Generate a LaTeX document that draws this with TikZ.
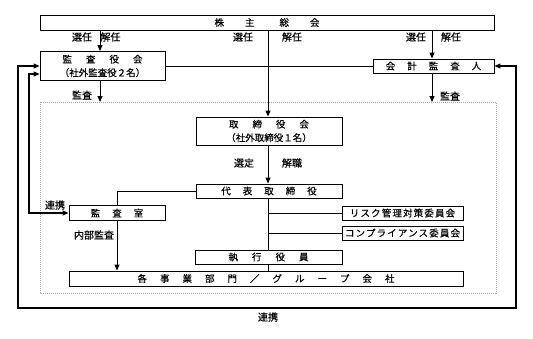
\documentclass[tikz,border=0pt]{standalone}
\usepackage{fontspec}
\setmainfont[FakeBold=0.35]{Noto Sans CJK JP}
\newfontfamily\jpls[LetterSpace=12,FakeBold=0.35]{Noto Sans CJK JP}
\usetikzlibrary{arrows.meta}
\newcommand{\jsp}[1]{\hspace{#1pt}}
\begin{document}
\begin{tikzpicture}[x=1pt,y=-1pt,
  box/.style={draw, line width=0.9pt, inner sep=0pt, align=center,
    font=\fontsize{9.5}{13.5}\selectfont},
  lab/.style={inner sep=0pt, font=\fontsize{10}{12}\selectfont},
  conn/.style={line width=0.9pt},
  arr/.style={line width=0.9pt, -{Triangle[length=6pt,width=5pt]}},
  both/.style={line width=1.1pt, {Triangle[length=6pt,width=5pt]}-{Triangle[length=6pt,width=5pt]}},
]
\useasboundingbox (0,0) rectangle (533,338);
\draw[gray!70, line width=0.6pt, dash pattern=on 1pt off 1pt] (40,102) rectangle (496,293);

\node[box, minimum width=454pt, minimum height=15pt] (sh) at (267,22.5)
  {株\jsp{21}主\jsp{25}総\jsp{21}会};
\node[box, minimum width=125pt, minimum height=29pt] (kan) at (102.5,66)
  {監\jsp{14}査\jsp{14}役\jsp{14}会\\（社外監査役２名）};
\node[box, minimum width=121pt, minimum height=14pt] (kai) at (433.5,66)
  {会\jsp{12}計\jsp{12}監\jsp{12}査\jsp{12}人};
\node[box, minimum width=146pt, minimum height=28pt] (tori) at (269,131)
  {取\jsp{14}締\jsp{14}役\jsp{14}会\\（社外取締役１名）};
\node[box, minimum width=146pt, minimum height=14pt] (dai) at (269,191)
  {代\jsp{12}表\jsp{12}取\jsp{12}締\jsp{12}役};
\node[box, minimum width=96pt, minimum height=15pt] (shitsu) at (117,213)
  {監\jsp{12}査\jsp{12}室};
\node[box, minimum width=121pt, minimum height=14pt] (risk) at (402.5,213)
  {\jpls リスク管理対策委員会};
\node[box, minimum width=121pt, minimum height=14pt] (comp) at (402.5,233)
  {\jpls コンプライアンス委員会};
\node[box, minimum width=147pt, minimum height=14pt] (shikko) at (268.5,257)
  {執\jsp{14}行\jsp{14}役\jsp{14}員};
\node[box, minimum width=394pt, minimum height=15pt] (kaku) at (266,278.5)
  {各\jsp{13}事\jsp{13}業\jsp{13}部\jsp{13}門\jsp{13}／\jsp{13}グ\jsp{13}ル\jsp{13}ー\jsp{13}プ\jsp{13}会\jsp{13}社};

\coordinate (xL) at (100,0);
\coordinate (xM) at (268,0);
\coordinate (xR) at (432,0);
\coordinate (yD) at (0,102);
\coordinate (oA) at (18,66);
\coordinate (oB) at (18,308);
\coordinate (oC) at (516,308);
\coordinate (oD) at (516,66);
\coordinate (pA) at (29,74);

\draw[arr] (sh.south -| xL) -- (kan.north -| xL);
\draw[arr] (sh.south -| xM) -- (tori.north -| xM);
\draw[arr] (sh.south -| xR) -- (kai.north -| xR);
\draw[conn] (kan.east) -- (kai.west);
\draw[arr] (kan.south -| xL) -- (xL |- yD);
\draw[arr] (kai.south -| xR) -- (xR |- yD);
\draw[arr] (tori.south -| xM) -- (dai.north -| xM);
\draw[conn] (dai.south -| xM) -- (shikko.north -| xM);
\draw[conn] (shikko.south -| xM) -- (kaku.north -| xM);
\draw[conn] (risk.west) -- (risk.west -| xM);
\draw[conn] (comp.west) -- (comp.west -| xM);
\draw[conn] (dai.west) -| (shitsu.north);
\draw[arr] (shitsu.south) -- (kaku.north -| shitsu.south);
\draw[both] (kai.east) -- (oD) -- (oC) -- (oB) -- (oA) -- (kan.west |- oA);
\draw[both] (kan.west |- pA) -- (pA) |- (shitsu.west);

\node[lab] (l1) at (82,37) {選任};
\node[lab] (l2) at (110.5,37) {解任};
\node[lab] (l3) at (243,37) {選任};
\node[lab] (l4) at (292,37) {解任};
\node[lab] (l5) at (416,37) {選任};
\node[lab] (l6) at (451,37) {解任};
\node[lab] (l7) at (82,95) {監査};
\node[lab] (l8) at (450,96) {監査};
\node[lab] (l9) at (244,163) {選定};
\node[lab] (l10) at (292,163) {解職};
\node[lab] (l11) at (55,205) {連携};
\node[lab] (l12) at (94,235) {内部監査};
\node[lab] (l13) at (268,317) {連携};
\end{tikzpicture}
\end{document}
